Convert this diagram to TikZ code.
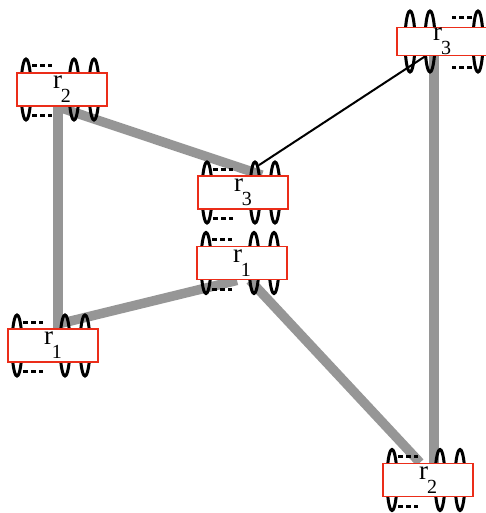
\documentclass[tikz,border=0pt]{standalone}
\usepackage{fontspec}
\setmainfont{Liberation Serif}
\usepackage{tikz}
\usepackage{xcolor}
\usetikzlibrary{calc,positioning}
\definecolor{bondgray}{RGB}{150,150,150}
\definecolor{boxred}{RGB}{235,45,25}
\pgfdeclarelayer{background}
\pgfsetlayers{background,main}
\tikzset{
  ring/.style={draw=black, line width=3pt},
  ringdash/.style={draw=black, line width=3pt, dash pattern=on 5pt off 3pt},
  bond/.style={draw=bondgray, line width=9.5pt},
  link/.style={draw=black, line width=2pt},
}
% label r with a low subscript
\newcommand{\rlab}[1]{r\kern-1pt\raisebox{-14pt}{\fontsize{20}{20}\selectfont #1}}
% rings round one box, #2 = 1 or -1 (mirrored)
\newcommand{\ringset}[2]{%
  \path[ring] ([xshift={#2*(-36pt)}]#1.center) ellipse [x radius=5pt, y radius=30.5pt];
  \path[ring] ([xshift={#2*12pt}]#1.center) ellipse [x radius=5pt, y radius=30.5pt];
  \path[ring] ([xshift={#2*32pt}]#1.center) ellipse [x radius=5pt, y radius=30.5pt];
  \path[ringdash] ([xshift={#2*(-30pt)}, yshift=23.5pt]#1.center) -- ([xshift={#2*(-10pt)}, yshift=23.5pt]#1.center);
  \path[ringdash] ([xshift={#2*(-30pt)}, yshift=-26pt]#1.center) -- ([xshift={#2*(-10pt)}, yshift=-26pt]#1.center);
}

\begin{document}
\begin{tikzpicture}[x=1pt, y=-1pt]
      \tikzset{
          every node/.style={font=\fontsize{27}{27}\selectfont},
          unit/.style={rectangle, draw=boxred, line width=1.8pt, fill=white, minimum width=90pt, minimum height=33pt, inner sep=0pt, text centered},
      }
      \useasboundingbox (0,0) rectangle (485,513);

      \node[unit] (item1) at (62,89.5) {\rlab{2}};
      \node[unit] (item2) at (243,192.5) {\rlab{3}};
      \node[unit] (item3) at (242,263) {\rlab{1}};
      \node[unit] (item4) at (53,345.5) {\rlab{1}};
      \node[unit] (item5) at (428,480) {\rlab{2}};
      \node[unit, minimum height=28pt] (item6) at (442,41.5) {\rlab{3}};

      \begin{pgfonlayer}{background}
      \path[bond] ([xshift=-4pt]item1.south) -- ([xshift=19pt]item2.north);
      \path[bond] ([xshift=-4pt]item1.south) -- ([xshift=5pt]item4.north);
      \path[bond] ([xshift=5pt, yshift=4pt]item4.north) -- ([xshift=-5pt]item3.south);
      \path[bond] ([xshift=8pt]item3.south) -- ([xshift=-8pt]item5.north);
      \path[bond] ([xshift=-8pt]item6.south) -- ([xshift=6pt]item5.north);
      \path[link] ([xshift=-17pt]item6.south) -- ([xshift=16pt, yshift=10pt]item2.north);

      \ringset{item1}{1}
      \ringset{item2}{1}
      \ringset{item3}{1}
      \ringset{item4}{1}
      \ringset{item5}{1}
      \ringset{item6}{-1}
      \end{pgfonlayer}

\end{tikzpicture}
\end{document}
